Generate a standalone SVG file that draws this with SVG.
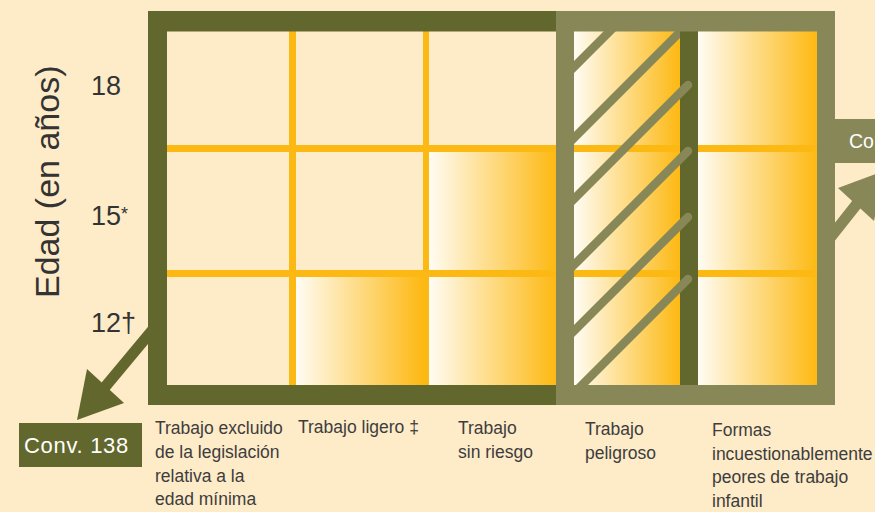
<svg xmlns="http://www.w3.org/2000/svg" width="875" height="512" viewBox="0 0 875 512">
<defs>
<linearGradient id="g" x1="0" y1="0" x2="1" y2="0">
<stop offset="0" stop-color="#FFFCF3"/>
<stop offset="1" stop-color="#FDB913"/>
</linearGradient>
<clipPath id="hc"><rect x="556" y="11" width="124" height="394"/></clipPath>
<style>
.lbl{font-family:"Liberation Sans",Arial,sans-serif;font-size:17.5px;fill:#3d3d3d}
.num{font-family:"Liberation Sans",Arial,sans-serif;font-size:27px;fill:#333}
.grad{fill:url(#g)}
.yl{fill:#FDB913}
.dk{fill:#62672D}
.lt{fill:#878758}
.hatch{stroke:#878758;stroke-width:8.5;stroke-linecap:round;fill:none}
.box{font-family:"Liberation Sans",Arial,sans-serif;font-size:22px;fill:#ffffff}
</style>
</defs>
<rect width="875" height="512" fill="#FEEBC8"/>

<g id="connectors">
<line x1="160" y1="321" x2="100" y2="393" stroke="#62672D" stroke-width="11"/>
<polygon points="77,420 87,369 124,403" fill="#62672D"/>
<line x1="826" y1="243" x2="860" y2="200" stroke="#878758" stroke-width="11"/>
<polygon points="884,171 838,188 874,221" fill="#878758"/>
</g>

<g id="cells">
<rect class="grad" x="296" y="277" width="127" height="108"/>
<rect class="grad" x="429" y="152" width="127" height="118"/>
<rect class="grad" x="429" y="277" width="127" height="108"/>
<rect class="grad" x="574" y="31" width="106" height="114"/>
<rect class="grad" x="574" y="152" width="106" height="118"/>
<rect class="grad" x="574" y="277" width="106" height="108"/>
<rect class="grad" x="698" y="31" width="119" height="114"/>
<rect class="grad" x="698" y="152" width="119" height="118"/>
<rect class="grad" x="698" y="277" width="119" height="108"/>
</g>

<g id="gridlines">
<rect class="yl" x="167" y="145" width="650" height="7"/>
<rect class="yl" x="167" y="270" width="650" height="7"/>
<rect class="yl" x="289" y="31" width="7" height="354"/>
<rect class="yl" x="423" y="31" width="6" height="354"/>
</g>

<g id="divider">
<rect class="dk" x="680" y="31" width="18" height="354"/>
</g>

<g id="hatching">
<g clip-path="url(#hc)">
<line class="hatch" x1="566" y1="75" x2="626" y2="15"/>
<line class="hatch" x1="566" y1="146" x2="696" y2="16"/>
</g>
<line class="hatch" x1="688" y1="85" x2="566" y2="207"/>
<line class="hatch" x1="688" y1="151" x2="566" y2="273"/>
<line class="hatch" x1="688" y1="217" x2="566" y2="339"/>
<line class="hatch" x1="688" y1="279" x2="570" y2="397"/>
</g>

<g id="frame-dark">
<rect class="dk" x="148" y="11" width="420" height="20.5"/>
<rect class="dk" x="148" y="11" width="19" height="394"/>
<rect class="dk" x="148" y="385" width="420" height="20"/>
</g>

<g id="frame-light">
<rect class="lt" x="556" y="11" width="279" height="20.5"/>
<rect class="lt" x="556" y="11" width="18" height="394"/>
<rect class="lt" x="817" y="11" width="18" height="394"/>
<rect class="lt" x="556" y="385" width="279" height="20"/>
</g>

<g id="box-right">
<rect class="lt" x="817" y="119" width="60" height="44"/>
<text x="849" y="148" font-family="Liberation Sans, Arial, sans-serif" font-size="19.5" fill="#ffffff">Co</text>
</g>

<g id="box-left">
<rect class="dk" x="19" y="423" width="123" height="44"/>
<text class="box" x="24" y="453" letter-spacing="0.7">Conv. 138</text>
</g>

<g id="axis">
<text transform="translate(58.5,298) rotate(-90)" font-family="Liberation Sans, Arial, sans-serif" font-size="34" fill="#333">Edad (en años)</text>
<text class="num" x="91" y="95">18</text>
<text class="num" x="91" y="225">15</text>
<text x="121" y="220" font-family="Liberation Sans, Arial, sans-serif" font-size="18" fill="#333">*</text>
<text class="num" x="91" y="332">12†</text>
</g>

<g id="labels">
<text class="lbl" x="155" y="434">Trabajo excluido</text>
<text class="lbl" x="155" y="458">de la legislación</text>
<text class="lbl" x="155" y="482">relativa a la</text>
<text class="lbl" x="155" y="505">edad mínima</text>
<text class="lbl" x="298" y="433">Trabajo ligero ‡</text>
<text class="lbl" x="458" y="434">Trabajo</text>
<text class="lbl" x="458" y="458">sin riesgo</text>
<text class="lbl" x="585" y="435">Trabajo</text>
<text class="lbl" x="585" y="459">peligroso</text>
<text class="lbl" x="712" y="436">Formas</text>
<text class="lbl" x="712" y="460">incuestionablemente</text>
<text class="lbl" x="712" y="483">peores de trabajo</text>
<text class="lbl" x="712" y="507">infantil</text>
</g>
</svg>
